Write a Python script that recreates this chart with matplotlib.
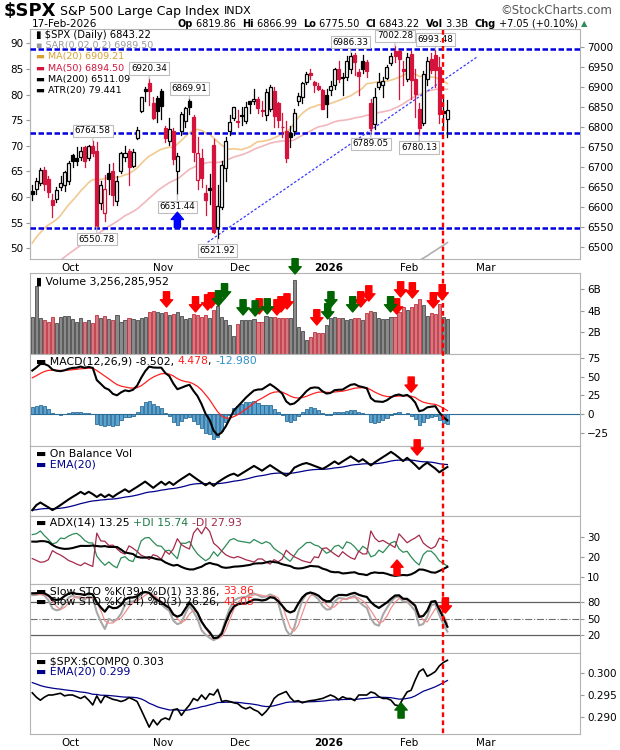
import numpy as np
import pandas as pd
import matplotlib
matplotlib.use("Agg")
import matplotlib.pyplot as plt
import matplotlib.transforms as mtransforms
from matplotlib.patches import Rectangle
from matplotlib.lines import Line2D

W, H = 620, 750
plt.rcParams['font.family'] = ['DejaVu Sans']

holidays = ["2025-11-27", "2025-12-25", "2026-01-01", "2026-01-19", "2026-02-16"]

# closes Jul 10 - Sep 17 2025, only used to warm up the averages
warm_close = [6280.46, 6259.75, 6268.56, 6243.76, 6263.70, 6297.36, 6296.79, 6305.60,
              6309.62, 6358.91, 6363.35, 6388.64, 6389.77, 6370.86, 6362.90, 6339.39,
              6238.01, 6329.94, 6299.19, 6345.06, 6340.00, 6389.45, 6373.45, 6445.76,
              6466.58, 6468.54, 6449.80, 6449.15, 6411.37, 6395.78, 6370.17, 6466.91,
              6439.32, 6465.94, 6481.40, 6501.86, 6460.26, 6415.54, 6448.26, 6502.08,
              6481.50, 6495.15, 6512.61, 6532.04, 6587.47, 6584.29, 6615.28, 6606.76,
              6600.35]

# daily bars Sep 18 2025 - Feb 17 2026
opens = [6641, 6645, 6660, 6693, 6669, 6618, 6620, 6650, 6655, 6665,
         6731, 6722, 6725, 6749, 6722, 6753, 6740, 6610, 6585, 6685,
         6689, 6615, 6690, 6724, 6741, 6702, 6773, 6839, 6895, 6910,
         6860, 6873, 6890, 6797, 6765, 6790, 6690, 6790, 6815, 6866,
         6825, 6667, 6722, 6635, 6647, 6755, 6550, 6601, 6697, 6791,
         6822, 6815, 6830, 6815, 6866, 6866, 6871, 6841, 6830, 6845,
         6890, 6860, 6800, 6790, 6784, 6790, 6864, 6875, 6912, 6935,
         6913, 6903, 6892, 6879, 6893, 6905, 6945, 6926, 6926, 6944,
         6979, 6937, 6966, 6962, 6860, 6808, 6900, 6905, 6922, 6960,
         6990, 6990, 6945, 6920, 6983, 6920, 6845, 6810, 6920, 6970,
         6980, 6950, 6840, 6819.86]
highs = [6656, 6672, 6697, 6700, 6677, 6633, 6650, 6677, 6689, 6716,
         6733, 6750, 6749, 6752, 6755, 6764.58, 6763, 6665, 6679, 6707,
         6710, 6678, 6738, 6752, 6744, 6746, 6800, 6876, 6900, 6920.34,
         6876, 6878, 6895, 6803, 6822, 6798, 6735, 6838, 6850, 6869.91,
         6829, 6775, 6745, 6655, 6683, 6770, 6655, 6715, 6776, 6829,
         6850, 6843, 6851, 6862, 6866, 6895, 6875, 6864, 6895, 6904,
         6901, 6862, 6835, 6814, 6802, 6845, 6884, 6912, 6937, 6945,
         6916, 6910, 6894, 6895, 6915, 6948, 6966, 6935, 6978, 6986.33,
         6985, 6945, 6980, 6967, 6870, 6898, 6934, 6925, 6955, 6985,
         7002.28, 6993, 6965, 6985, 6990, 6945, 6860, 6940, 6975, 6985,
         6993.48, 6975, 6880, 6866.99]
lows = [6618, 6633, 6654, 6642, 6624, 6575, 6612, 6643, 6641, 6658,
        6700, 6706, 6718, 6700, 6718, 6727, 6550.78, 6595, 6565, 6633,
        6604, 6605, 6686, 6714, 6654, 6700, 6770, 6838, 6865, 6856,
        6820, 6813, 6819, 6762, 6754, 6708, 6631.44, 6780, 6800, 6832,
        6715, 6646, 6650, 6581, 6608, 6535, 6521.92, 6595, 6665, 6781,
        6818, 6800, 6806, 6810, 6834, 6858, 6835, 6828, 6817, 6840,
        6801, 6801, 6776, 6712, 6751, 6780, 6855, 6860, 6908, 6921,
        6888, 6892, 6844, 6824, 6880, 6895, 6912, 6880, 6917, 6934,
        6930, 6880, 6935, 6925, 6789.05, 6795, 6895, 6875, 6920, 6955,
        6962, 6870, 6905, 6915, 6870, 6825, 6780.13, 6805, 6905, 6935,
        6900, 6810, 6795, 6775.50]
closes = [6631.96, 6664.36, 6693.75, 6656.92, 6637.97, 6604.72, 6643.70, 6661.21, 6688.46, 6711.20,
          6715.35, 6715.79, 6740.28, 6714.59, 6753.72, 6735.11, 6552.51, 6654.72, 6644.31, 6671.06,
          6629.07, 6664.01, 6735.13, 6735.35, 6699.40, 6738.44, 6791.69, 6875.16, 6890.89, 6890.59,
          6822.34, 6840.20, 6851.97, 6771.55, 6796.29, 6720.32, 6728.80, 6832.43, 6846.61, 6850.92,
          6737.49, 6734.11, 6672.41, 6617.32, 6642.16, 6538.76, 6602.99, 6705.12, 6765.88, 6812.61,
          6849.09, 6812.63, 6829.37, 6849.72, 6857.12, 6870.40, 6846.51, 6840.51, 6886.68, 6901.00,
          6827.41, 6816.51, 6800.26, 6721.43, 6774.76, 6834.50, 6878.49, 6909.79, 6932.05, 6929.94,
          6905.74, 6896.24, 6845.50, 6858.47, 6902.05, 6944.82, 6920.93, 6921.46, 6966.28, 6977.27,
          6963.74, 6926.60, 6944.47, 6940.01, 6796.86, 6875.62, 6913.35, 6915.61, 6950.23, 6978.60,
          6978.03, 6969.01, 6939.03, 6976.44, 6917.81, 6882.72, 6798.40, 6932.30, 6964.82, 6941.81,
          6941.47, 6832.76, 6836.17, 6843.22]
volume_b = [3.45, 6.3, 3.3, 3.1, 3.0, 3.4, 2.9, 3.4, 3.5, 3.5,
            3.2, 3.0, 3.3, 3.0, 3.1, 2.9, 3.6, 3.3, 3.5, 3.2,
            3.1, 3.6, 3.0, 3.1, 3.3, 3.2, 3.1, 3.3, 3.4, 3.9,
            4.0, 3.9, 3.8, 3.9, 3.6, 3.7, 3.9, 3.5, 3.2, 3.3,
            3.7, 3.6, 3.4, 3.6, 3.3, 4.1, 4.4, 3.4, 3.1, 2.7,
            1.7, 2.8, 3.1, 3.1, 3.1, 3.2, 3.0, 3.0, 3.5, 3.4,
            3.4, 3.3, 3.3, 3.3, 3.3, 6.8, 2.5, 2.1, 1.3, 1.6,
            2.0, 1.9, 1.9, 2.7, 3.3, 3.4, 3.3, 3.3, 3.1, 3.2,
            3.3, 3.3, 3.1, 3.8, 4.0, 3.9, 3.3, 3.2, 3.2, 3.4,
            3.4, 3.9, 4.3, 4.1, 4.3, 4.6, 5.1, 4.5, 3.5, 3.8,
            3.7, 4.6, 3.4, 3.26]
ma200_tail = [6466, 6472, 6478, 6485, 6491, 6498, 6504, 6511.09]

# $SPX:$COMPQ ratio
rel_ratio = [0.2955, 0.2945, 0.2938, 0.2945, 0.2950, 0.2950, 0.2952, 0.2954, 0.2948, 0.2950,
             0.2950, 0.2946, 0.2942, 0.2947, 0.2938, 0.2927, 0.2948, 0.2932, 0.2948, 0.2944,
             0.2940, 0.2938, 0.2935, 0.2938, 0.2944, 0.2940, 0.2935, 0.2916, 0.2896, 0.2876,
             0.2893, 0.2881, 0.2893, 0.2897, 0.2893, 0.2916, 0.2918, 0.2903, 0.2916, 0.2927,
             0.2942, 0.2937, 0.2950, 0.2940, 0.2953, 0.2950, 0.2963, 0.2935, 0.2937, 0.2935,
             0.2932, 0.2930, 0.2922, 0.2918, 0.2922, 0.2916, 0.2912, 0.2903, 0.2912, 0.2924,
             0.2942, 0.2950, 0.2954, 0.2958, 0.2944, 0.2935, 0.2937, 0.2932, 0.2935, 0.2937,
             0.2938, 0.2940, 0.2942, 0.2946, 0.2950, 0.2946, 0.2939, 0.2946, 0.2942, 0.2942,
             0.2937, 0.2950, 0.2950, 0.2950, 0.2957, 0.2954, 0.2946, 0.2942, 0.2942, 0.2938,
             0.2927, 0.2925, 0.2942, 0.2957, 0.2961, 0.2984, 0.3004, 0.3010, 0.2993, 0.2998,
             0.3004, 0.3017, 0.3025, 0.3030]
rel_ema_seed = 0.2981

# ADX(14) state on the first bar
atr_seed, pdi_seed, mdi_seed, adx_seed = 62.0, 31.0, 19.0, 27.5

# support / resistance and trend line
levels = [6995, 6785, 6548]
trend_x = [43.5, 110.6]
trend_p = [6512, 6977]

# labelled highs (above) and lows (below)
ann_idx = [15, 29, 39, 79, 90, 100, 16, 36, 46, 84, 96]
ann_val = [6764.58, 6920.34, 6869.91, 6986.33, 7002.28, 6993.48,
           6550.78, 6631.44, 6521.92, 6789.05, 6780.13]
ann_up = [True] * 6 + [False] * 5

# volume panel arrows (index, volume in B)
vol_red_x = [33.3, 40.5, 43.5, 44.4, 56.3, 60.7, 61.7, 63.2, 70.6, 81.5, 83.5, 90.4, 91.4, 94.3, 99.5, 101.7]
vol_red_y = [4.34, 3.88, 4.06, 4.25, 3.69, 3.6, 3.88, 4.15, 2.68, 4.34, 4.89, 3.69, 5.26, 5.17, 4.25, 4.99]
vol_grn_x = [46.2, 47.7, 52.3, 55.3, 58.3, 65.2, 73.3, 74.1, 79.5, 88.9]
vol_grn_y = [4.43, 5.08, 3.6, 3.5, 3.69, 7.39, 3.23, 4.34, 3.88, 3.88]
marker_day = 102

# ---------------------------------------------------------------- indicators
n = len(closes)
nw = len(warm_close)
x = np.arange(n)
c_all = pd.Series(warm_close + closes)
h_all = pd.Series(warm_close + highs)
l_all = pd.Series(warm_close + lows)

ma20 = c_all.rolling(20).mean().values[nw:]
ma50 = c_all.rolling(50).mean().values[nw:]

macd_all = c_all.ewm(span=12, adjust=False).mean() - c_all.ewm(span=26, adjust=False).mean()
sig_all = macd_all.ewm(span=9, adjust=False).mean()
macd = macd_all.values[nw:]
sig = sig_all.values[nw:]
hist = macd - sig

c = np.array(closes)
hh = np.array(highs)
ll = np.array(lows)
prev_c = np.r_[warm_close[-1], c[:-1]]
vol = np.array(volume_b)
obv = np.cumsum(np.sign(c - prev_c) * vol)
obv_ema = pd.Series(obv).ewm(span=20, adjust=False).mean().values

# Wilder ADX, started from the seed state
s_tr = atr_seed
s_p = pdi_seed / 100 * atr_seed
s_m = mdi_seed / 100 * atr_seed
adx_v = adx_seed
pdi, mdi, adx = [pdi_seed], [mdi_seed], [adx_seed]
for i in range(1, n):
    tr = max(hh[i] - ll[i], abs(hh[i] - c[i - 1]), abs(ll[i] - c[i - 1]))
    up = hh[i] - hh[i - 1]
    dn = ll[i - 1] - ll[i]
    pdm = up if (up > dn and up > 0) else 0.0
    mdm = dn if (dn > up and dn > 0) else 0.0
    s_tr += (tr - s_tr) / 14
    s_p += (pdm - s_p) / 14
    s_m += (mdm - s_m) / 14
    p_ = 100 * s_p / s_tr
    m_ = 100 * s_m / s_tr
    dx = 100 * abs(p_ - m_) / (p_ + m_)
    adx_v += (dx - adx_v) / 14
    pdi.append(p_)
    mdi.append(m_)
    adx.append(adx_v)

hh39, ll39 = h_all.rolling(39, min_periods=1).max(), l_all.rolling(39, min_periods=1).min()
k39 = (100 * (c_all - ll39) / (hh39 - ll39)).rolling(3).mean().values[nw:]
hh14, ll14 = h_all.rolling(14).max(), l_all.rolling(14).min()
k14s = (100 * (c_all - ll14) / (hh14 - ll14)).rolling(3).mean()
d14 = k14s.rolling(3).mean().values[nw:]
k14 = k14s.values[nw:]

al = 2 / 21
e = rel_ema_seed
rel_ema = []
for r in rel_ratio:
    e += al * (r - e)
    rel_ema.append(e)

# ---------------------------------------------------------------- figure
fig = plt.figure(figsize=(W / 100, H / 100), dpi=100)
XL = (-0.57, 135.9)
SP = '#b4b4b4'


def panel(top, bot):
    ax = fig.add_axes([30 / W, 1 - bot / H, 550 / W, (bot - top) / H])
    ax.set_xlim(*XL)
    ax.yaxis.tick_right()
    for s in ax.spines.values():
        s.set_color(SP)
    ax.tick_params(axis='both', labelsize=7.5, length=3, color='#999999', pad=2)
    ax.set_xticks([])
    return ax


def seg_text(ax, xf, yf, parts, base=None, size=7):
    r = fig.canvas.get_renderer()
    tr_ = base if base is not None else ax.transAxes
    for p in parts:
        s, col = p[0], p[1]
        bold = len(p) > 2 and p[2]
        fs = p[3] if len(p) > 3 else size
        t = fig.text(xf, yf, s, transform=tr_, color=col, fontsize=fs,
                     fontweight='bold' if bold else 'normal', va='center', ha='left', zorder=20)
        w = t.get_window_extent(renderer=r).width
        tr_ = mtransforms.offset_copy(tr_, x=w, units='dots')


def lab(ax, ypx, parts, xpx=36, size=7.8):
    bb = ax.get_position()
    top = (1 - bb.y1) * H
    hpx = bb.height * H
    seg_text(ax, (xpx - 30) / 550, 1 - (ypx - top) / hpx, parts, size=size)


def arrow(ax, xv, yv, color, down=True, ycoords='data'):
    dy = 11 if down else -11
    ax.annotate('', xy=(xv, yv), xycoords=('data', ycoords), xytext=(0, dy), textcoords='offset points',
                arrowprops=dict(arrowstyle='simple,head_length=0.65,head_width=1.1,tail_width=0.55',
                                fc=color, ec=color, mutation_scale=8, shrinkA=0, shrinkB=0),
                annotation_clip=False, zorder=15)


days = pd.bdate_range("2025-09-18", "2026-03-31")
days = days[~days.isin(pd.to_datetime(holidays))]
month_keys = [(2025, 10), (2025, 11), (2025, 12), (2026, 1), (2026, 2), (2026, 3)]
month_names = ["Oct", "Nov", "Dec", "2026", "Feb", "Mar"]
month_pos = [int(np.argmax((days.year == yy) & (days.month == mm))) + 0.5 for yy, mm in month_keys]


def month_axis(ax):
    ax.set_xticks(month_pos)
    ax.set_xticklabels(month_names)
    ax.tick_params(axis='x', length=0, pad=3, labelsize=7.5)
    ax.get_xticklabels()[3].set_fontweight('bold')


# header
seg_text(None, 4 / W, 1 - 11 / H, [(r"\$SPX", 'black', True, 13), (" S&P 500 Large Cap Index ", 'black', False, 9),
                                    ("INDX", 'black', False, 8)], base=fig.transFigure)
fig.text(32 / W, 1 - 24 / H, "17-Feb-2026", fontsize=7.5, va='center')
seg_text(None, 178 / W, 1 - 24 / H,
         [("Op", 'black', True), (" 6819.86  ", 'black'), ("Hi", 'black', True), (" 6866.99  ", 'black'),
          ("Lo", 'black', True), (" 6775.50  ", 'black'), ("Cl", 'black', True), (" 6843.22  ", 'black'),
          ("Vol", 'black', True), (" 3.3B  ", 'black'), ("Chg", 'black', True), (" +7.05 (+0.10%) ", 'black'),
          ("▲", '#2e8b57', False, 6)], base=fig.transFigure, size=7.0)
fig.text(612 / W, 1 - 11 / H, "©StockCharts.com", fontsize=8.5, color='#555555', ha='right', va='center')

# ---------------------------------------------------------------- price panel
ax = panel(29.5, 259)
PY = (6470, 7044)
LY = (47.9, 92.73)
ax.set_ylim(*PY)
ax.set_yticks(np.arange(6500, 7001, 50))
month_axis(ax)
sec = ax.secondary_yaxis('left', functions=(
    lambda p: LY[0] + (p - PY[0]) * (LY[1] - LY[0]) / (PY[1] - PY[0]),
    lambda v: PY[0] + (v - LY[0]) * (PY[1] - PY[0]) / (LY[1] - LY[0])))
sec.set_yticks(np.arange(50, 91, 5))
sec.tick_params(axis='y', labelsize=7.5, length=3, color='#999999', pad=2)
sec.spines['left'].set_color(SP)

ax.plot(x, ma20, color='#f2c98f', lw=1.2, zorder=2)
ax.plot(x, ma50, color='#f2b6bd', lw=1.2, zorder=2)
ax.plot(x[n - len(ma200_tail):], ma200_tail, color='#b0b0b0', lw=1.2, zorder=2)
for lv in levels:
    ax.axhline(lv, color='#0000dd', lw=1.8, dashes=(2.2, 1.0), zorder=3)
ax.plot(trend_x, trend_p, color='#3a3aff', lw=0.9, dashes=(2, 1.5), zorder=3)

bw = 0.75
for i in range(n):
    o, hi, lo, cl = opens[i], highs[i], lows[i], closes[i]
    col = '#d4143c' if cl < prev_c[i] else 'black'
    ax.plot([i, i], [lo, hi], color=col, lw=0.9, zorder=4)
    b0, b1 = min(o, cl), max(o, cl)
    if b1 - b0 < 2:
        b0, b1 = (b0 + b1) / 2 - 1, (b0 + b1) / 2 + 1
    fc = 'white' if cl >= o else col
    ax.add_patch(Rectangle((i - bw / 2, b0), bw, b1 - b0, fc=fc, ec=col, lw=0.9, zorder=5))

for xi, v, upv in zip(ann_idx, ann_val, ann_up):
    ax.annotate(f"{v:.2f}", xy=(xi, v), xytext=(0, 7.5 if upv else -9), textcoords='offset points',
                ha='center', va='center', fontsize=6.3, zorder=12,
                bbox=dict(boxstyle='square,pad=0.2', fc='white', ec='#bdbdbd', lw=0.8),
                arrowprops=dict(arrowstyle='-', color='#bdbdbd', lw=0.8, shrinkA=0, shrinkB=0))
arrow(ax, 36, 6587, '#0000ff', down=False)

lab(ax, 35, [("▮ " + r"\$SPX (Daily) 6843.22", 'black')], size=7.2)
lab(ax, 45.7, [("▪ SAR(0.02,0.2) 6989.50", '#9a9a9a')], size=6.8)
lab(ax, 56.9, [("▬ MA(20) 6909.21", '#d9a030')], size=6.8)
lab(ax, 68.3, [("▬ MA(50) 6894.50", '#d4143c')], size=6.8)
lab(ax, 79.3, [("▬ MA(200) 6511.09", 'black')], size=6.8)
lab(ax, 90, [("▬ ATR(20) 79.441", 'black')], size=6.8)

# ---------------------------------------------------------------- volume
av = panel(273, 354)
av.set_ylim(0, 7.48)
av.set_yticks([2, 4, 6])
av.set_yticklabels(['2B', '4B', '6B'])
down = c < prev_c
av.bar(x, vol, width=0.78, color=np.where(down, '#d67880', '#8a8a8a'),
       edgecolor=np.where(down, '#c03040', '#4a4a4a'), linewidth=0.6, zorder=3)
for xv, yv in zip(vol_red_x, vol_red_y):
    arrow(av, xv, yv, '#ff0000')
for xv, yv in zip(vol_grn_x, vol_grn_y):
    arrow(av, xv, yv, '#006400')
lab(av, 282, [("▮ Volume 3,256,285,952", 'black')])

# ---------------------------------------------------------------- MACD
am = panel(354, 446)
am.set_ylim(-42.8, 80.2)
am.set_yticks([-25, 0, 25, 50, 75])
am.bar(x, hist, width=0.78, color='#5ba3d0', edgecolor='#2b6c96', linewidth=0.6, zorder=2)
am.axhline(0, color='#2b6c96', lw=0.8, zorder=2)
am.plot(x, sig, color='#ff2020', lw=0.9, zorder=3)
am.plot(x, macd, color='black', lw=1.5, zorder=4)
arrow(am, 94, 29, '#ff0000')
lab(am, 361, [("▬ MACD(12,26,9) -8.502, ", 'black'), ("4.478", '#ff2020'), (", ", 'black'), ("-12.980", '#3090c8')])

# ---------------------------------------------------------------- OBV
ao = panel(446, 516)
lo_, hi_ = obv.min(), obv.max()
rg = hi_ - lo_
ao.set_ylim(lo_ - 0.1 * rg, hi_ + 0.1 * rg)
ao.set_yticks([])
ao.plot(x, obv_ema, color='#00008b', lw=0.9, zorder=3)
ao.plot(x, obv, color='black', lw=1.5, zorder=4)
arrow(ao, 95.5, 0.87, '#ff0000', ycoords='axes fraction')
lab(ao, 454, [("▬ On Balance Vol", 'black')])
lab(ao, 465, [("▬ EMA(20)", '#00008b')])

# ---------------------------------------------------------------- ADX
aa = panel(516, 584)
aa.set_ylim(6.3, 40.3)
aa.set_yticks([10, 20, 30])
aa.plot(x, pdi, color='#2e8b57', lw=0.9, zorder=3)
aa.plot(x, mdi, color='#a52a4a', lw=0.9, zorder=3)
aa.plot(x, adx, color='black', lw=1.5, zorder=4)
arrow(aa, 90.5, 18.3, '#ff0000', down=False)
lab(aa, 522.7, [("▬ ADX(14) 13.25 ", 'black'), ("+DI 15.74 ", '#1f7a45'), ("-DI 27.93", '#a52a4a')])

# ---------------------------------------------------------------- stochastics
ast = panel(584, 653)
ast.set_ylim(-12.7, 113)
ast.set_yticks([20, 50, 80])
ast.axhline(80, color='#606060', lw=0.9, zorder=1)
ast.axhline(20, color='#606060', lw=0.9, zorder=1)
ast.axhline(50, color='#707070', lw=0.8, ls='-.', zorder=1)
ast.plot(x, k14, color='#a8a8a8', lw=1.5, zorder=3)
ast.plot(x, d14, color='#f09090', lw=0.9, zorder=3)
ast.plot(x, k39, color='black', lw=1.6, zorder=4)
arrow(ast, 102.5, 60, '#ff0000')
lab(ast, 591.5, [("▬ Slow STO %K(39) %D(1) 33.86, ", 'black'), ("33.86", '#ff2020')])
lab(ast, 602, [("▬ Slow STO %K(14) %D(3) 26.26, ", 'black'), ("41.05", '#ff2020')])

# ---------------------------------------------------------------- relative strength
ar = panel(653, 734)
ar.set_ylim(0.28601, 0.30468)
ar.set_yticks([0.290, 0.295, 0.300])
ar.set_yticklabels(['0.290', '0.295', '0.300'])
month_axis(ar)
ar.plot(x, rel_ema, color='#00008b', lw=0.9, zorder=3)
ar.plot(x, rel_ratio, color='black', lw=1.2, zorder=4)
arrow(ar, 91.5, 0.2932, '#006400', down=False)
lab(ar, 661, [("▬ " + r"\$SPX:\$COMPQ 0.303", 'black')])
lab(ar, 672, [("▬ EMA(20) 0.299", '#00008b')])

# red dashed marker through every panel
inv = fig.transFigure.inverted()
xf = inv.transform(ax.transData.transform((marker_day, 6800)))[0]
fig.add_artist(Line2D([xf, xf], [1 - 29.5 / H, 1 - 734 / H], transform=fig.transFigure,
                      color='#ff0000', lw=1.7, dashes=(2, 1.4), zorder=30))

fig.savefig("out.png", dpi=100)
